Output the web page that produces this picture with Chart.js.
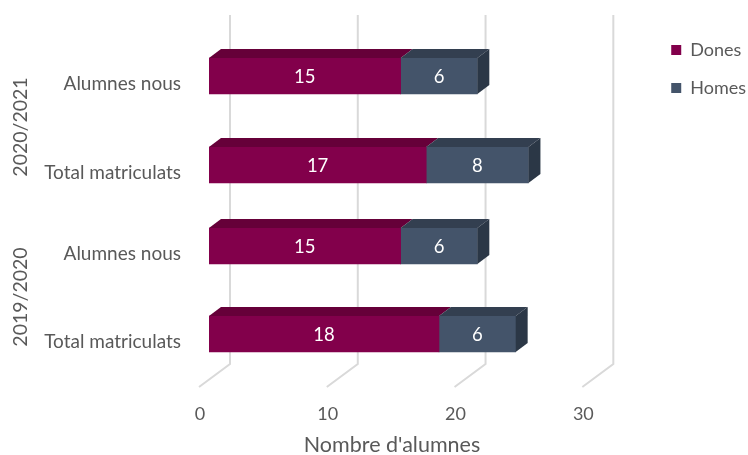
<!DOCTYPE html>
<html lang="ca">
<head>
  <meta charset="UTF-8">
  <title>Nombre d'alumnes</title>
  <script src="https://cdn.jsdelivr.net/npm/chart.js"></script>
  <style>
    html, body { margin: 0; padding: 0; background: #fff; }
    #wrap { width: 748px; height: 455px; }
  </style>
</head>
<body>
  <div id="wrap"><canvas id="chart"></canvas></div>
  <script>
    const categories = ['Alumnes nous', 'Total matriculats', 'Alumnes nous', 'Total matriculats'];
    const dones = [15, 17, 15, 18];
    const homes = [6, 8, 6, 6];
    const years = ['2020/2021', '2019/2020'];
    const rowOffsets = [0, 1.035, 1.977, 3]; // the rows are not evenly spaced in the original
    const xTicks = [0, 10, 20, 30];

    const font = 'Lato, Carlito, sans-serif';
    const grey = '#595959';

    function points(values) {
      return values.map((v, i) => ({ x: v, y: rowOffsets[i] }));
    }

    function poly(ctx, color, pts) {
      ctx.fillStyle = color;
      ctx.beginPath();
      pts.forEach((p, i) => i ? ctx.lineTo(p[0], p[1]) : ctx.moveTo(p[0], p[1]));
      ctx.closePath();
      ctx.fill();
    }

    // fake 3D: back wall and floor lines, top and side faces of the bars, plus the extra texts
    const depthPlugin = {
      id: 'depth',
      beforeDatasetsDraw(chart) {
        const ctx = chart.ctx, x = chart.scales.x;
        ctx.save();
        ctx.strokeStyle = '#d9d9d9';
        ctx.lineWidth = 2;
        xTicks.forEach(v => {
          const px = x.getPixelForValue(v);
          ctx.beginPath();
          ctx.moveTo(px + 21, 15);
          ctx.lineTo(px + 21, 364);
          ctx.lineTo(px - 10, 387);
          ctx.stroke();
        });
        ctx.restore();
      },
      afterDatasetsDraw(chart) {
        const ctx = chart.ctx;
        const dx = 12, dy = 9;
        ctx.save();
        chart.getDatasetMeta(0).data.forEach(b => {
          const top = b.y - b.height / 2;
          poly(ctx, '#660039', [[b.base, top], [b.base + dx, top - dy], [b.x + dx, top - dy], [b.x, top]]);
        });
        chart.getDatasetMeta(1).data.forEach(b => {
          const top = b.y - b.height / 2, bottom = b.y + b.height / 2;
          poly(ctx, '#333f50', [[b.base, top], [b.base + dx, top - dy], [b.x + dx, top - dy], [b.x, top]]);
          poly(ctx, '#2b3746', [[b.x, top], [b.x + dx, top - dy], [b.x + dx, bottom - dy], [b.x, bottom]]);
        });

        ctx.textAlign = 'center';
        ctx.textBaseline = 'middle';
        ctx.fillStyle = '#fff';
        ctx.font = '18.5px ' + font;
        [0, 1].forEach(d => {
          const values = d ? homes : dones;
          chart.getDatasetMeta(d).data.forEach((b, i) => {
            ctx.fillText(values[i], (b.base + b.x) / 2, b.y + 1);
          });
        });

        ctx.fillStyle = grey;
        ctx.font = '21.5px ' + font;
        ctx.fillText("Nombre d'alumnes", 392, 445);

        ctx.font = '19.5px ' + font;
        [[years[0], 127], [years[1], 297]].forEach(([label, y]) => {
          ctx.save();
          ctx.translate(21, y);
          ctx.rotate(-Math.PI / 2);
          ctx.fillText(label, 0, 0);
          ctx.restore();
        });
        ctx.restore();
      }
    };

    new Chart(document.getElementById('chart'), {
      type: 'bar',
      data: {
        datasets: [
          { label: 'Dones', data: points(dones), backgroundColor: '#82004b', barThickness: 36 },
          { label: 'Homes', data: points(homes), backgroundColor: '#44546a', barThickness: 36 }
        ]
      },
      options: {
        indexAxis: 'y',
        responsive: true,
        maintainAspectRatio: false,
        animation: false,
        layout: { padding: { top: 21, right: -8, bottom: 0, left: 0 } },
        scales: {
          x: {
            type: 'linear',
            stacked: true,
            min: 0,
            max: 34.61, // room for the legend, the last tick is 30
            grid: { display: false },
            border: { display: false },
            afterFit(s) { s.height = 91; },
            ticks: {
              stepSize: 10,
              includeBounds: false,
              labelOffset: -9,
              padding: 31,
              color: grey,
              font: { family: font, size: 18 }
            }
          },
          y: {
            type: 'linear',
            stacked: true,
            reverse: true,
            offset: false,
            min: -0.64,
            max: 3.349,
            grid: { display: false },
            border: { display: false },
            afterBuildTicks(s) { s.ticks = rowOffsets.map(v => ({ value: v })); },
            afterFit(s) { s.width = 209; s.paddingTop = 0; s.paddingBottom = 0; },
            ticks: {
              autoSkip: false,
              labelOffset: 8,
              padding: 20,
              color: grey,
              font: { family: font, size: 19 },
              callback: (v, i) => categories[i]
            }
          }
        },
        plugins: {
          tooltip: { enabled: false },
          legend: {
            position: 'right',
            align: 'start',
            labels: {
              boxWidth: 10,
              boxHeight: 10,
              padding: 20,
              color: grey,
              font: { family: font, size: 18 }
            }
          }
        }
      },
      plugins: [depthPlugin]
    });
  </script>
</body>
</html>
